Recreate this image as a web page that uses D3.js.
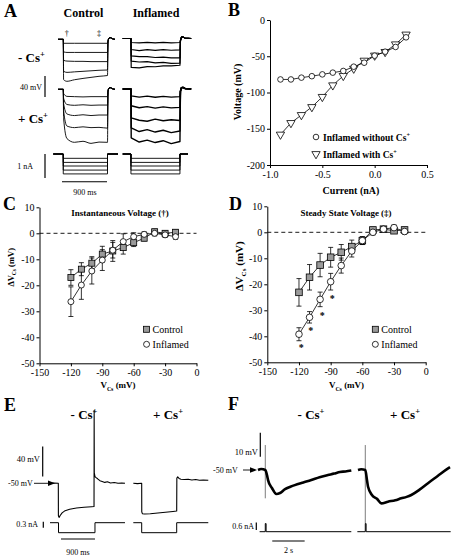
<!DOCTYPE html>
<html><head><meta charset="utf-8">
<script src="https://cdn.jsdelivr.net/npm/d3@7/dist/d3.min.js"></script>
<style>html,body{margin:0;padding:0;background:#fff;}svg{display:block;}
svg text{font-family:"Liberation Serif","DejaVu Serif","Times New Roman",serif !important;}</style>
</head><body><svg id="fig" width="456" height="556"></svg>
<script>
// ================= DATA =================
// Panel A: membrane voltage traces (mV relative to holding), sampled at the times below (ms)
const aCtrlNoCs = [
  [-7.6,-7.6,-7.6,-7.6,-7.6,-7.6,-7.6],
  [-24,-25,-25,-25,-25,-25,-25],
  [-40,-41.5,-42,-42,-42.5,-42.5,-42.5],
  [-61,-63,-62,-61,-60,-59,-58.5],
  [-77,-80,-77,-74.5,-72.5,-70.5,-69]];
const aCtrlCs = [
  [-8,-13.5,-14,-14.5,-14,-14,-14],
  [-17,-29,-30.5,-29.5,-30.5,-30,-30],
  [-27,-47,-50,-48.5,-50,-49,-49],
  [-40,-70,-73,-71.5,-73,-72.5,-74],
  [-55,-94,-101,-99,-103,-100.5,-101]];
const aInflNoCs = [
  [-7.6,-8.4,-7.2,-8.3,-7.3,-8.2,-7.6],
  [-21,-23,-21.2,-22.8,-21.2,-22.4,-21.5],
  [-33,-34.6,-34.4,-36.2,-35.5,-37,-37],
  [-43,-44.8,-44,-46.3,-45.5,-47.2,-47],
  [-55,-55.8,-53.5,-53.8,-52,-52.3,-51]];
const aInflCs = [
  [-13,-15.5,-13.6,-15.8,-14,-15.4,-14.5],
  [-32,-35.8,-33.5,-36.5,-34,-36,-35],
  [-55,-59.5,-61.5,-57.5,-60.5,-58.5,-60],
  [-74,-81,-77.5,-82,-78.5,-83,-80],
  [-93,-101,-97.5,-102,-98.5,-104,-100]];
const aCtrlTimes = [112,180,330,500,660,820,990];
const aInflTimes = [170,330,490,650,810,970,1145];
const aCtrlStep = [105,990,1140];   // onset, offset, end (ms)
const aInflStep = [165,1145,1370];
const aRecovery = [[10,-4],[30,2.5],[60,3],[100,1]];
const aCurrentLevels = [-0.18,-0.35,-0.5,-0.67,-0.83]; // nA
const aCtrlCurrentSpan = [-95,1200];
const aInflCurrentSpan = [0,1306];

// Panel B
const bCurrent   = [-0.9,-0.8,-0.7,-0.6,-0.5,-0.4,-0.3,-0.2,-0.1,0.0,0.1,0.2,0.3];
const bWithoutCs = [-82,-82,-79.5,-77.5,-75,-72.6,-70.3,-64.4,-58.9,-49.2,-43.7,-37.2,-23.9];
const bWithCs    = [-158,-142,-131,-120,-106,-90,-77,-67,-56,-49,-44,-33.5,-20];
const bXTicks = [-1.0,-0.5,0.0,0.5];
const bXLabels = ["-1.0","-0.5","0.0","0.5"];
const bYTicks = [0,-50,-100,-150,-200];
const bYLabels = ["0","-50","-100","-150","-200"];

// Panels C & D
const vCs = [-120,-110,-100,-90,-80,-70,-60,-50,-40,-30,-20];
const cControl     = [-17,-13.8,-11.5,-8,-6.8,-5.5,-3.6,-1.9,0.6,0,0.4];
const cControlErr  = [3,2.5,2.5,3,4,2.5,1.5,1,1,1,1];
const cInflamed    = [-26.3,-19.9,-14.5,-10.3,-6.5,-3.2,-1.3,-0.4,0,-0.6,-1.3];
const cInflamedErr = [5.7,5.5,5,4,3,3,1.5,1,1,1,1];
const dControl     = [-23.1,-17.3,-12.6,-9.6,-7.7,-5.5,-3.2,0.9,1.2,0.6,0.9];
const dControlErr  = [5.3,4.9,4.5,3.8,3,2.5,1.5,1,1,1,1];
const dInflamed    = [-39.2,-32.7,-25.8,-19,-12.8,-7.2,-3.2,0,1.2,1.8,0.3];
const dInflamedErr = [2.5,2.2,2.8,3.2,2.9,2.3,1.5,1,1,1,1];
const dStars = [[-117.8,-44],[-108.9,-37.6],[-98,-31.8],[-88.5,-25.4]];
const cdXTicks = [-150,-120,-90,-60,-30,0];
const cdXLabels = ["-150","-120","-90","-60","-30","0"];
const cdYTicks = [10,0,-10,-20,-30,-40,-50];
const cdYLabels = ["10","0","-10","-20","-30","-40","-50"];

// Panel E (time ms, voltage mV, current nA)
const eNoCs = [[0,-50],[100,-49.6],[220,-50],[222,-93],[240,-95.5],[270,-93],[320,-89.5],[400,-86.5],[520,-84.5],[700,-83],[900,-82],[1100,-81.3],[1165,-81],[1168,47.5],[1172,-36],[1190,-41],[1220,-42.5],[1260,-44],[1320,-46.5],[1380,-47.5],[1450,-48.8],[1520,-48],[1600,-49.5],[1700,-49],[1800,-50],[1900,-49.5],[1984,-50]];
const eCs = [[0,-50],[110,-50.4],[222,-50],[224,-88],[240,-90.5],[300,-91],[450,-90.5],[650,-89.5],[850,-88.5],[1050,-87.5],[1148,-87],[1152,-43],[1175,-41.5],[1210,-43.5],[1260,-44.5],[1350,-45],[1450,-44.5],[1550,-45.5],[1650,-45],[1750,-46],[1850,-45.5],[1984,-46]];
const eCurNoCs = [[0,0],[225,0],[225,-0.5],[1190,-0.5],[1190,0],[1984,0]];
const eCurCs = [[0,0],[222,0],[222,-0.5],[1148,-0.5],[1148,0],[1984,0]];

// Panel F (time s, voltage mV, current nA)
const fNoCs = [[0,-50],[0.2,-49.6],[0.45,-50],[0.55,-52],[0.62,-54.2],[0.86,-57.5],[1.13,-60],[1.36,-59.6],[1.67,-58],[2.0,-57],[2.27,-56.3],[2.8,-55.2],[3.29,-54.2],[3.8,-53],[4.32,-52.1],[4.7,-51.5],[5.06,-50.8],[5.4,-50.6],[5.76,-50.2]];
const fCs = [[0,-50],[0.2,-49.7],[0.45,-50],[0.55,-54],[0.62,-57],[0.86,-60.4],[1.17,-62],[1.44,-63.9],[1.85,-63.2],[2.3,-62.6],[2.67,-61.8],[3.0,-61.2],[3.29,-60.4],[3.8,-58.2],[4.32,-55.5],[4.9,-52.6],[5.56,-49.3],[5.68,-48.8]];
const fArtifacts = [[0.45,-39.6,-61.8],[0.45,-39.6,-72.2]];
const fCurNoCs = [[0.1,0],[0.45,0],[0.45,0.65],[0.5,0.65],[0.5,0],[5.76,0]];
const fCurCs = [[-0.04,0],[0.45,0],[0.45,0.65],[0.5,0.65],[0.5,0],[5.72,0]];

// ================= DRAW =================
const FONT = '"Liberation Serif","DejaVu Serif","Times New Roman",serif';
const svg = d3.select("#fig");

function T(x,y,segs,o={}){
  const size = o.size||10;
  const t = svg.append("text").attr("x",x).attr("y",y).style("font-family",FONT)
    .attr("font-size",size).attr("font-weight",o.bold?"bold":"normal")
    .attr("text-anchor",o.anchor||"start").attr("fill","#000");
  if(o.rot) t.attr("transform",`rotate(${o.rot},${x},${y})`);
  if(typeof segs==="string") segs=[{s:segs}];
  let shift=0;
  segs.forEach(sg=>{
    const target = sg.sup? -size*0.4 : sg.sub? size*0.28 : 0;
    const ts = t.append("tspan").text(sg.s).attr("dy",target-shift);
    if(sg.sup||sg.sub) ts.attr("font-size",size*0.65);
    shift=target;
  });
  return t;
}
function line(x1,y1,x2,y2,w=1,c="#000"){
  svg.append("line").attr("x1",x1).attr("y1",y1).attr("x2",x2).attr("y2",y2)
    .attr("stroke",c).attr("stroke-width",w);
}
function trace(pts,xs,ys,w=1,c="#000",curve=d3.curveLinear){
  svg.append("path").attr("d",d3.line().x(d=>xs(d[0])).y(d=>ys(d[1])).curve(curve)(pts))
    .attr("fill","none").attr("stroke",c).attr("stroke-width",w).attr("stroke-linejoin","round");
}
function styleAxis(g){
  g.attr("font-family",null);
  g.selectAll("path,line").attr("stroke","#000").attr("stroke-width",1);
  g.selectAll("text").style("font-family",FONT).attr("font-size",10).attr("fill","#000");
}

// Panel letters
[["A",4,17],["B",228,16],["C",3,210],["D",229,210],["E",4,411],["F",228,410]].forEach(([s,x,y])=>
  T(x,y,s,{size:18,bold:true}));

// ---------- Panel A ----------
const aXc = d3.scaleLinear().domain([0,1000]).range([58,108]);
const aXi = d3.scaleLinear().domain([0,1000]).range([122.7,172.7]);
const aYf = base => d3.scaleLinear().domain([0,-100]).range([base,base+52.5]);
function stepTrace(step,times,levels){
  const pts=[[0,0],[step[0],0]];
  times.forEach((t,i)=>pts.push([t,levels[i]]));
  aRecovery.forEach(([dt,v])=>pts.push([step[1]+dt,v]));
  pts.push([step[2],0]);
  return pts;
}
const aPanels = [
  [aCtrlNoCs,aXc,aYf(39.3),aCtrlStep,aCtrlTimes,0.9,d3.curveMonotoneX],
  [aInflNoCs,aXi,aYf(38.5),aInflStep,aInflTimes,1.2,d3.curveLinear],
  [aCtrlCs,aXc,aYf(89.3),aCtrlStep,aCtrlTimes,0.9,d3.curveMonotoneX],
  [aInflCs,aXi,aYf(89),aInflStep,aInflTimes,1.4,d3.curveLinear]];
aPanels.forEach(([lv,xs,ys,step,times,w,cv])=>{
  lv.forEach(l=>trace(stepTrace(step,times,l),xs,ys,w,"#000",cv));
});
const aI = d3.scaleLinear().domain([0,-1]).range([154,178]);
[[aXc,aCtrlStep,aCtrlCurrentSpan],[aXi,aInflStep,aInflCurrentSpan]].forEach(([xs,step,span])=>{
  aCurrentLevels.forEach(l=>{
    trace([[span[0],0],[step[0],0],[step[0],l],[step[1],l],[step[1],0],[span[1],0]],xs,aI,0.9);
  });
});
T(83.5,17,"Control",{size:12,bold:true,anchor:"middle"});
T(156,17,"Inflamed",{size:12,bold:true,anchor:"middle"});
T(18,62,[{s:"- Cs"},{s:"+",sup:true}],{size:13,bold:true});
T(18,123,[{s:"+ Cs"},{s:"+",sup:true}],{size:13,bold:true});
T(aXc(175),36,"\u2020",{size:8,anchor:"middle"});
T(aXc(820),36,"\u2021",{size:8,anchor:"middle"});
const aYs = aYf(39.3);
line(45,aYs(-70),45,aYs(-110),1.2);
T(42,90,"40 mV",{size:8,anchor:"end"});
line(45,aI(0),45,aI(-1),1.2);
T(33,169,"1 nA",{size:8,anchor:"end"});
line(aXc(80),181.7,aXc(980),181.7,1.1);
T(85,195,"900 ms",{size:8,anchor:"middle"});

// ---------- Panel B ----------
{
  const x = d3.scaleLinear().domain([-1,0.5]).range([270,427]);
  const y = d3.scaleLinear().domain([0,-200]).range([20,165]);
  const gy = svg.append("g").attr("transform","translate(270,0)")
    .call(d3.axisLeft(y).tickValues(bYTicks).tickFormat((d,i)=>bYLabels[i]).tickSize(3).tickSizeOuter(0).tickPadding(2));
  styleAxis(gy);
  const gx = svg.append("g").attr("transform","translate(0,165)")
    .call(d3.axisBottom(x).tickValues(bXTicks).tickFormat((d,i)=>bXLabels[i]).tickSize(3).tickSizeOuter(0).tickPadding(3));
  styleAxis(gx);
  const ln = d3.line().x((d,i)=>x(bCurrent[i])).y(d=>y(d));
  svg.append("path").attr("d",ln(bWithCs)).attr("fill","none").attr("stroke","#000").attr("stroke-width",0.8);
  svg.append("path").attr("d",ln(bWithoutCs)).attr("fill","none").attr("stroke","#000").attr("stroke-width",0.8);
  const tri = d3.symbol(d3.symbolTriangle,30);
  bWithCs.forEach((v,i)=>svg.append("path").attr("d",tri())
    .attr("transform",`translate(${x(bCurrent[i])},${y(v)}) rotate(180)`)
    .attr("fill","#fff").attr("stroke","#000").attr("stroke-width",0.8));
  bWithoutCs.forEach((v,i)=>svg.append("circle").attr("cx",x(bCurrent[i])).attr("cy",y(v)).attr("r",2.8)
    .attr("fill","#fff").attr("stroke","#000").attr("stroke-width",0.8));
  svg.append("circle").attr("cx",316).attr("cy",137).attr("r",2.8).attr("fill","#fff").attr("stroke","#000").attr("stroke-width",0.8);
  svg.append("path").attr("d",tri()).attr("transform","translate(316,154) rotate(180)").attr("fill","#fff").attr("stroke","#000").attr("stroke-width",0.8);
  T(323,140.5,[{s:"Inflamed without Cs"},{s:"+",sup:true}],{size:9.5,bold:true});
  T(323,157.5,[{s:"Inflamed with Cs"},{s:"+",sup:true}],{size:9.5,bold:true});
  T(241,92,"Voltage (mV)",{size:10,bold:true,anchor:"middle",rot:-90});
  T(351,194,"Current (nA)",{size:10,bold:true,anchor:"middle"});
}

// ---------- Panels C & D ----------
function dvPanel(xr,yr,ctrl,ctrlE,infl,inflE,title,titleX,ylabSize,ylabX,mk){
  const x = d3.scaleLinear().domain([-150,0]).range(xr);
  const y = d3.scaleLinear().domain([10,-50]).range(yr);
  const gy = svg.append("g").attr("transform",`translate(${xr[0]},0)`)
    .call(d3.axisLeft(y).tickValues(cdYTicks).tickFormat((d,i)=>cdYLabels[i]).tickSize(3).tickSizeOuter(0).tickPadding(2));
  styleAxis(gy);
  const gx = svg.append("g").attr("transform",`translate(0,${yr[1]})`)
    .call(d3.axisBottom(x).tickValues(cdXTicks).tickFormat((d,i)=>cdXLabels[i]).tickSize(3).tickSizeOuter(0).tickPadding(3));
  styleAxis(gx);
  svg.append("line").attr("x1",x(-150)).attr("x2",x(0)).attr("y1",y(0)).attr("y2",y(0))
    .attr("stroke","#000").attr("stroke-width",0.9).attr("stroke-dasharray","4,3");
  const ln = d3.line().x((d,i)=>x(vCs[i])).y(d=>y(d));
  [[ctrl,ctrlE],[infl,inflE]].forEach(([vals,errs])=>{
    svg.append("path").attr("d",ln(vals)).attr("fill","none").attr("stroke","#000").attr("stroke-width",0.8);
    vals.forEach((v,i)=>{
      const cx=x(vCs[i]);
      line(cx,y(v-errs[i]),cx,y(v+errs[i]),0.8);
      line(cx-2.5,y(v-errs[i]),cx+2.5,y(v-errs[i]),0.8);
      line(cx-2.5,y(v+errs[i]),cx+2.5,y(v+errs[i]),0.8);
    });
  });
  ctrl.forEach((v,i)=>svg.append("rect").attr("x",x(vCs[i])-mk).attr("y",y(v)-mk).attr("width",2*mk).attr("height",2*mk)
    .attr("fill","#9a9a9a").attr("stroke","#000").attr("stroke-width",0.8));
  infl.forEach((v,i)=>svg.append("circle").attr("cx",x(vCs[i])).attr("cy",y(v)).attr("r",mk)
    .attr("fill","#fff").attr("stroke","#000").attr("stroke-width",0.8));
  T(titleX,216,title,{size:9,bold:true,anchor:"middle"});
  const lx = x(-150)+(xr[1]-xr[0])*0.682;
  svg.append("rect").attr("x",lx-3).attr("y",326.3).attr("width",6).attr("height",6)
    .attr("fill","#9a9a9a").attr("stroke","#000").attr("stroke-width",0.8);
  svg.append("circle").attr("cx",lx).attr("cy",344.3).attr("r",3).attr("fill","#fff").attr("stroke","#000").attr("stroke-width",0.8);
  T(lx+6,333,"Control",{size:10});
  T(lx+6,348,"Inflamed",{size:10});
  T(ylabX,(yr[0]+yr[1])/2-18,[{s:"\u0394V"},{s:"Cs",sub:true},{s:" (mV)"}],{size:ylabSize,bold:true,anchor:"middle",rot:-90});
  T((xr[0]+xr[1])/2,388,[{s:"V"},{s:"Cs",sub:true},{s:" (mV)"}],{size:9,bold:true,anchor:"middle"});
  return {x,y};
}
dvPanel([39.5,196.5],[207.3,363.3],cControl,cControlErr,cInflamed,cInflamedErr,"Instantaneous Voltage (\u2020)",120,8.5,14,3);
const dS = dvPanel([267.3,425.7],[206.3,362.3],dControl,dControlErr,dInflamed,dInflamedErr,"Steady State Voltage (\u2021)",346,11,243,3.3);
dStars.forEach(([vx,vy])=>T(dS.x(vx),dS.y(vy)+4,"*",{size:10,bold:true,anchor:"middle"}));

// ---------- Panel E ----------
{
  const xN = d3.scaleLinear().domain([0,1000]).range([50,87.8]);
  const xC = d3.scaleLinear().domain([0,1000]).range([133.3,171.1]);
  const y = d3.scaleLinear().domain([-50,-90]).range([483.3,513.3]);
  const I = d3.scaleLinear().domain([0,-0.5]).range([522.7,532.7]);
  trace(eNoCs,xN,y,1.1);
  trace(eCs,xC,y,1.1);
  trace(eCurNoCs,xN,I,1);
  trace(eCurCs,xC,I,1);
  T(84,419,[{s:"- Cs"},{s:"+",sup:true}],{size:13,bold:true,anchor:"middle"});
  T(168,419,[{s:"+ Cs"},{s:"+",sup:true}],{size:13,bold:true,anchor:"middle"});
  line(42.7,y(-41),42.7,y(-1),1.2);
  T(40,462,"40 mV",{size:8.5,anchor:"end"});
  T(8,486,"-50 mV",{size:8});
  line(34,y(-50),48,y(-50),0.9);
  svg.append("path").attr("d",`M48,${y(-50)-2.8}L55,${y(-50)}L48,${y(-50)+2.8}Z`).attr("fill","#000");
  line(43.3,I(0.05),43.3,I(-0.25),1.2);
  T(38,527,"0.3 nA",{size:8,anchor:"end"});
  line(xN(290),539,xN(1190),539,1.1);
  T(78,555,"900 ms",{size:8,anchor:"middle"});
}

// ---------- Panel F ----------
{
  const xN = d3.scaleLinear().domain([0,1]).range([258,274.2]);
  const xC = d3.scaleLinear().domain([0,1]).range([358,374.2]);
  const y = d3.scaleLinear().domain([-50,-60]).range([470,494]);
  const I = d3.scaleLinear().domain([0,1]).range([531.7,519.2]);
  [[fArtifacts[0],xN],[fArtifacts[1],xC]].forEach(([a,xs])=>line(xs(a[0]),y(a[1]),xs(a[0]),y(a[2]),0.7,"#444"));
  trace(fNoCs,xN,y,2.6,"#000",d3.curveMonotoneX);
  trace(fCs,xC,y,2.6,"#000",d3.curveMonotoneX);
  trace(fCurNoCs,xN,I,1);
  trace(fCurCs,xC,I,1);
  T(311,419,[{s:"- Cs"},{s:"+",sup:true}],{size:13,bold:true,anchor:"middle"});
  T(405,419,[{s:"+ Cs"},{s:"+",sup:true}],{size:13,bold:true,anchor:"middle"});
  line(260.3,y(-44.5),260.3,y(-34.5),1.2);
  T(258,455,"10 mV",{size:8.5,anchor:"end"});
  T(213,473,"-50 mV",{size:8});
  line(243,y(-50),251,y(-50),0.9);
  svg.append("path").attr("d",`M250,${y(-50)-2.8}L257,${y(-50)}L250,${y(-50)+2.8}Z`).attr("fill","#000");
  line(256.3,I(0.14),256.3,I(0.74),1.2);
  T(254,529,"0.6 nA",{size:8,anchor:"end"});
  line(xN(0.88),541,xN(2.88),541,1.1);
  T(288.5,553,"2 s",{size:8,anchor:"middle"});
}
</script></body></html>
